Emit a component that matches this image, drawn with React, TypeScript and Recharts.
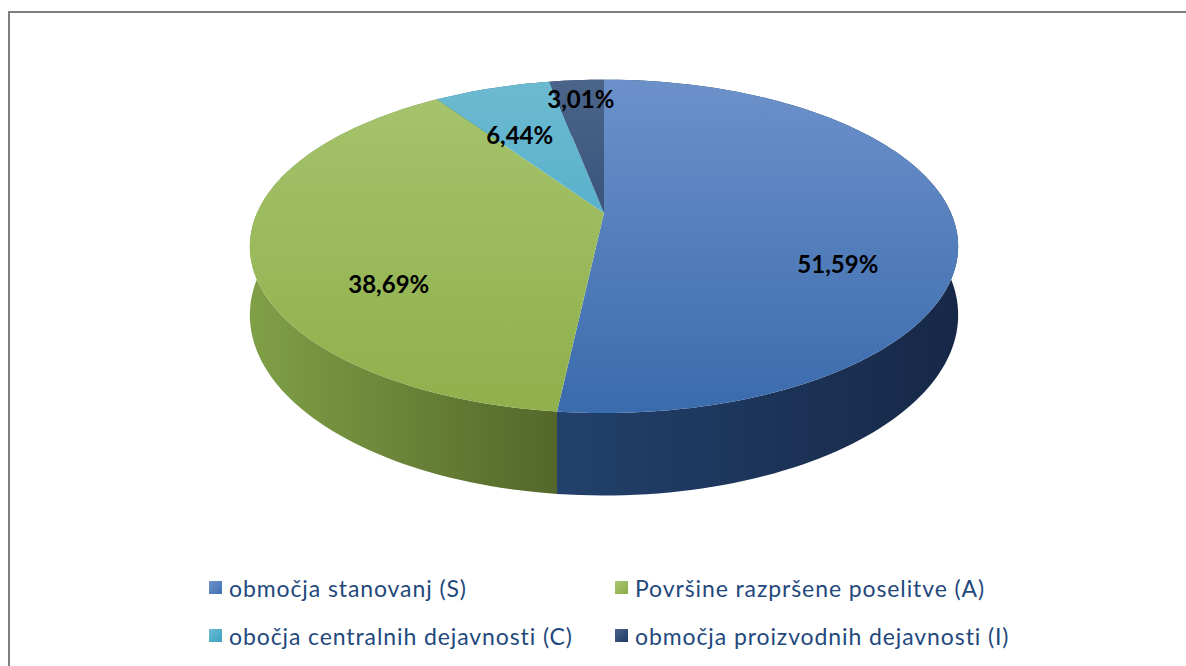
import React from 'react';
import { PieChart, Pie } from 'recharts';

const CATEGORIES = [
  'območja stanovanj (S)',
  'Površine razpršene poselitve (A)',
  'obočja centralnih dejavnosti (C)',
  'območja proizvodnih dejavnosti (I)',
];
const SHARES = [51.59, 38.69, 6.44, 3.01];
const SHARE_LABELS = ['51,59%', '38,69%', '6,44%', '3,01%'];

// Office 2007 palette: [top light, top dark, wall light, wall dark]
const SLICE_COLORS = [
  ['#6c91ca', '#3a6bad', '#22416c', '#172847'],
  ['#a6c46d', '#8fb04b', '#80a047', '#53672a'],
  ['#6cbad1', '#3da4c3', '#2f7f97', '#215f72'],
  ['#4b6489', '#1f3d68', '#1c3152', '#13223a'],
];
const LEGEND_COLORS = [
  ['#6e93cb', '#3e6fb2'],
  ['#a8c56f', '#8cad49'],
  ['#6dbbd2', '#3aa2c1'],
  ['#4a6388', '#1f3c66'],
];

// label placement on the top face: radius fraction + vertical nudge
const LABEL_PLACE = [
  { f: 0.67, dy: 45 },
  { f: 0.62, dy: 46 },
  { f: 0.72, dy: 15 },
  { f: 0.82, dy: -2 },
];

const data = CATEGORIES.map((name, i) => ({ name, value: SHARES[i], label: SHARE_LABELS[i] }));

// fake 3D: tilted disc with a little perspective
const PERSP = 0.2;
const RX = 347;
const RY = 160;
const DEPTH = 66;

const project = (cx: number, cy: number, angle: number, f = 1) => {
  const r = (angle * Math.PI) / 180;
  const u = Math.cos(r) * f;
  const v = -Math.sin(r) * f;
  const s = 1 / (1 - PERSP * v);
  return { x: cx + RX * u * s, y: cy + RY * v * s, s };
};

const arcPoints = (cx: number, cy: number, a0: number, a1: number) => {
  const steps = Math.max(2, Math.ceil(Math.abs(a1 - a0) / 1.5));
  const pts = [];
  for (let i = 0; i <= steps; i++) {
    pts.push(project(cx, cy, a0 + ((a1 - a0) * i) / steps));
  }
  return pts;
};

const WallShape = (props: any) => {
  const { cx, cy, startAngle, endAngle, index } = props;
  const top = arcPoints(cx, cy, startAngle, endAngle);
  const bottom = top.map((p) => ({ x: p.x, y: p.y + DEPTH * p.s })).reverse();
  const d =
    'M' + top.map((p) => `${p.x.toFixed(2)},${p.y.toFixed(2)}`).join('L') +
    'L' + bottom.map((p) => `${p.x.toFixed(2)},${p.y.toFixed(2)}`).join('L') + 'Z';
  return <path d={d} fill={`url(#wall-${index})`} stroke="none" />;
};

const TopShape = (props: any) => {
  const { cx, cy, startAngle, endAngle, index } = props;
  const rim = arcPoints(cx, cy, startAngle, endAngle);
  const d =
    `M${cx},${cy}L` + rim.map((p) => `${p.x.toFixed(2)},${p.y.toFixed(2)}`).join('L') + 'Z';
  return <path d={d} fill={`url(#top-${index})`} stroke="none" />;
};

const renderLabel = (props: any) => {
  const { cx, cy, midAngle, index } = props;
  const place = LABEL_PLACE[index];
  const p = project(cx, cy, midAngle, place.f);
  return (
    <text
      x={p.x}
      y={p.y + place.dy}
      textAnchor="middle"
      dominantBaseline="central"
      fill="#000"
      style={{ fontFamily: 'Lato, sans-serif', fontWeight: 700, fontSize: 24 }}
    >
      {SHARE_LABELS[index]}
    </text>
  );
};

export default function App() {
  return (
    <div style={{ position: 'absolute', left: 0, top: 0, width: 1186, height: 666, overflow: 'hidden', background: '#fff' }}>
      <div
        style={{
          position: 'absolute',
          left: 8,
          top: 11,
          width: 1200,
          height: 700,
          border: '2px solid #7f7f7f',
          boxSizing: 'border-box',
        }}
      />
      <div style={{ position: 'absolute', left: 0, top: 0 }}>
        <PieChart width={1186} height={666} margin={{ top: 0, right: 0, bottom: 0, left: 0 }}>
          <defs>
            {SLICE_COLORS.map((c, i) => (
              <linearGradient key={`t${i}`} id={`top-${i}`} x1="0" y1="80" x2="0" y2="412" gradientUnits="userSpaceOnUse">
                <stop offset="0%" stopColor={c[0]} />
                <stop offset="100%" stopColor={c[1]} />
              </linearGradient>
            ))}
            {SLICE_COLORS.map((c, i) => (
              <linearGradient key={`w${i}`} id={`wall-${i}`} x1="0" y1="0" x2="1" y2="0">
                <stop offset="0%" stopColor={c[2]} />
                <stop offset="100%" stopColor={c[3]} />
              </linearGradient>
            ))}
          </defs>
          <Pie
            data={data}
            dataKey="value"
            nameKey="name"
            cx={604}
            cy={213}
            outerRadius={160}
            startAngle={90}
            endAngle={-270}
            stroke="none"
            shape={WallShape}
            isAnimationActive={false}
          />
          <Pie
            data={data}
            dataKey="value"
            nameKey="name"
            cx={604}
            cy={213}
            outerRadius={160}
            startAngle={90}
            endAngle={-270}
            stroke="none"
            shape={TopShape}
            label={renderLabel}
            labelLine={false}
            isAnimationActive={false}
          />
        </PieChart>
      </div>
      {/* legend, two columns */}
      <div
        style={{
          position: 'absolute',
          left: 209,
          top: 572,
          width: 840,
          display: 'grid',
          gridTemplateColumns: '406px 430px',
          rowGap: 17,
          fontFamily: 'Lato, sans-serif',
          fontSize: 23,
          letterSpacing: 0.9,
          color: '#1f497d',
        }}
      >
        {CATEGORIES.map((name, i) => (
          <div key={name} style={{ display: 'flex', alignItems: 'center', height: 31 }}>
            <span
              style={{
                display: 'inline-block',
                width: 13,
                height: 13,
                marginRight: 7,
                background: `linear-gradient(135deg, ${LEGEND_COLORS[i][0]}, ${LEGEND_COLORS[i][1]})`,
              }}
            />
            <span>{name}</span>
          </div>
        ))}
      </div>
    </div>
  );
}
